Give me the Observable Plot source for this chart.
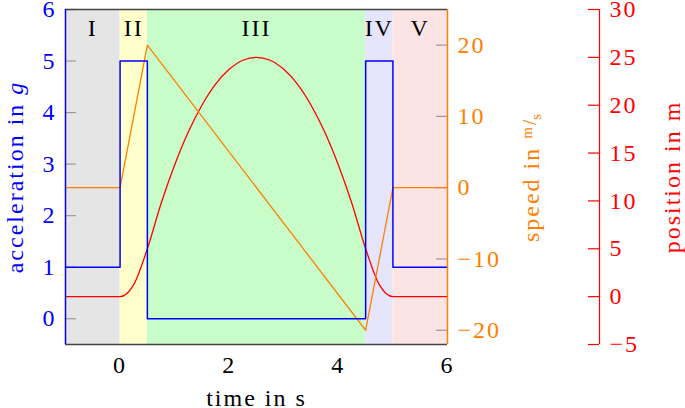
<!DOCTYPE html>
<html><head><meta charset="utf-8">
<script src="https://cdn.jsdelivr.net/npm/d3@7"></script>
<script src="https://cdn.jsdelivr.net/npm/@observablehq/plot@0.6"></script>
<style>body{margin:0;background:#fff} svg text{font-family:"Liberation Serif","DejaVu Serif",serif !important; letter-spacing:2px;}</style>
</head><body><div id="chart"></div>
<script>
// ---- data ----
const phaseNames = ["I", "II", "III", "IV", "V"];
const phaseStart = [-1, 0, 0.5, 4.5, 5];
const phaseEnd = [0, 0.5, 4.5, 5, 6];

const accTime = [-1, 0, 0.5, 4.5, 5, 6];
const accValue = [1, 5, 0, 5, 1, 1];

const speedTime = [-1, 0, 0.5, 4.5, 5, 6];
const speedValue = [0, 0, 20, -20, 0, 0];

const posTime = [-1, 0, 0.25, 0.5, 0.75, 1, 1.25, 1.5, 1.75, 2, 2.25, 2.5, 2.75, 3, 3.25, 3.5, 3.75, 4, 4.25, 4.5, 4.75, 5, 6];
const posValue = [0, 0, 1.25, 5, 9.7, 13.75, 17.2, 20, 22.2, 23.75, 24.7, 25, 24.7, 23.75, 22.2, 20, 17.2, 13.75, 9.7, 5, 1.25, 0, 0];

const timeTicks = [0, 2, 4, 6];
const accTicks = [0, 1, 2, 3, 4, 5, 6];
const speedTicks = [-20, -10, 0, 10, 20];
const posTicks = [-5, 0, 5, 10, 15, 20, 25, 30];

// ---- styling ----
const phaseColors = ["#e5e5e5", "#ffffcc", "#c8fcc8", "#e5e5fc", "#fde4e4"];
const BLUE = "#0000ff", ORANGE = "#ff8000", RED = "#ff0000";
const FONT = "Liberation Serif, DejaVu Serif, serif";
const FS = 24;
const W = 685, H = 408, mL = 65, mR = 238, mT = 9, mB = 64;
const frameW = W - mL - mR;

// axis domains
const accDomain = [-0.5, 6];
const speedDomain = [-22, 25];
const posDomain = [-5, 30];
const toAcc = (dom) => (v) => accDomain[0] + (v - dom[0]) / (dom[1] - dom[0]) * (accDomain[1] - accDomain[0]);
const fromSpeed = toAcc(speedDomain);
const fromPos = toAcc(posDomain);

const phases = phaseNames.map((n, i) => ({name: n, start: phaseStart[i], end: phaseEnd[i], color: phaseColors[i]}));
const acc = accTime.map((t, i) => ({t, v: accValue[i]}));
const speed = speedTime.map((t, i) => ({t, v: fromSpeed(speedValue[i])}));
const pos = posTime.map((t, i) => ({t, v: fromPos(posValue[i])}));

const textStyle = {fontSize: FS};
const minus = d => d < 0 ? "\u2212" + Math.abs(d) : String(d);

const chart = Plot.plot({
  width: W, height: H,
  marginLeft: mL, marginRight: mR, marginTop: mT, marginBottom: mB,
  x: {domain: [phaseStart[0], phaseEnd[phaseEnd.length - 1]], axis: null},
  y: {domain: accDomain, axis: null},
  style: {fontFamily: FONT, fontSize: FS + "px", background: "white", overflow: "visible"},
  marks: [
    Plot.rect(phases, {x1: "start", x2: "end", fill: "color"}),
    // inner tick marks
    Plot.ruleY(accTicks, {y: d => d, insetRight: frameW - 11, stroke: "#9a9a9a", strokeWidth: 1.2}),
    Plot.ruleY(speedTicks, {y: d => fromSpeed(d), insetLeft: frameW - 11, stroke: "#9a9a9a", strokeWidth: 1.2}),
    // curves
    Plot.line(pos, {x: "t", y: "v", stroke: RED, strokeWidth: 1.3, curve: "monotone-x"}),
    Plot.line(speed, {x: "t", y: "v", stroke: ORANGE, strokeWidth: 1.3}),
    Plot.line(acc, {x: "t", y: "v", stroke: BLUE, strokeWidth: 1.5, curve: "step-after"}),
    // frame edges
    Plot.ruleY([accDomain[1]], {stroke: "#444", strokeWidth: 1.4}),
    Plot.ruleY([accDomain[0]], {stroke: "#444", strokeWidth: 1.4}),
    Plot.ruleX([phaseStart[0]], {stroke: BLUE, strokeWidth: 1.5}),
    Plot.ruleX([phaseEnd[phaseEnd.length - 1]], {stroke: ORANGE, strokeWidth: 1.5}),
    // position axis (offset to the right)
    Plot.ruleX([phaseEnd[phaseEnd.length - 1]], {dx: 152, stroke: RED, strokeWidth: 1.2}),
    Plot.ruleY(posTicks, {y: d => fromPos(d), insetLeft: frameW + 141, insetRight: -152, stroke: RED, strokeWidth: 1.2}),
    // phase labels
    Plot.text(phases, {x: d => (d.start + d.end) / 2, text: "name", frameAnchor: "top", dy: 19, textAnchor: "middle", lineAnchor: "middle", fill: "black", ...textStyle}),
    // tick labels
    Plot.text(timeTicks, {x: d => d, text: d => String(d), frameAnchor: "bottom", dy: 21, textAnchor: "middle", lineAnchor: "middle", fill: "black", ...textStyle}),
    Plot.text(accTicks, {y: d => d, text: d => String(d), frameAnchor: "left", dx: -9, textAnchor: "end", lineAnchor: "middle", fill: BLUE, ...textStyle}),
    Plot.text(speedTicks, {y: d => fromSpeed(d), text: minus, frameAnchor: "right", dx: 10, textAnchor: "start", lineAnchor: "middle", fill: ORANGE, ...textStyle}),
    Plot.text(posTicks, {y: d => fromPos(d), text: minus, frameAnchor: "right", dx: 162, textAnchor: "start", lineAnchor: "middle", fill: RED, ...textStyle}),
    // axis titles
    Plot.text(["time in s"], {frameAnchor: "bottom", dy: 54, textAnchor: "middle", lineAnchor: "middle", fill: "black", ...textStyle}),
    Plot.text(["acceleration in g"], {frameAnchor: "left", dx: -50, rotate: -90, textAnchor: "middle", lineAnchor: "middle", fill: BLUE, ...textStyle}),
    Plot.text(["speed in m/s"], {frameAnchor: "right", dx: 84, rotate: -90, textAnchor: "middle", lineAnchor: "middle", fill: ORANGE, ...textStyle}),
    Plot.text(["position in m"], {frameAnchor: "right", dx: 225, rotate: -90, textAnchor: "middle", lineAnchor: "middle", fill: RED, ...textStyle})
  ]
});

// typographic touches: italic g and the stacked m/s unit
d3.select(chart).selectAll("text").each(function() {
  const t = d3.select(this);
  const s = t.text();
  if (s === "acceleration in g") {
    t.text("acceleration in ");
    t.append("tspan").attr("font-style", "italic").text("g");
  } else if (s === "speed in m/s") {
    t.text("speed in ");
    t.append("tspan").attr("font-size", "15px").attr("dy", "-0.5em").text("m");
    t.append("tspan").attr("font-size", "19px").attr("dy", "0.25em").style("letter-spacing", "0px").text("/");
    t.append("tspan").attr("font-size", "15px").attr("dy", "0.3em").text("s");
  }
});
d3.select(chart).selectAll("text").attr("font-family", FONT);

document.getElementById("chart").appendChild(chart);
</script>
</body></html>
